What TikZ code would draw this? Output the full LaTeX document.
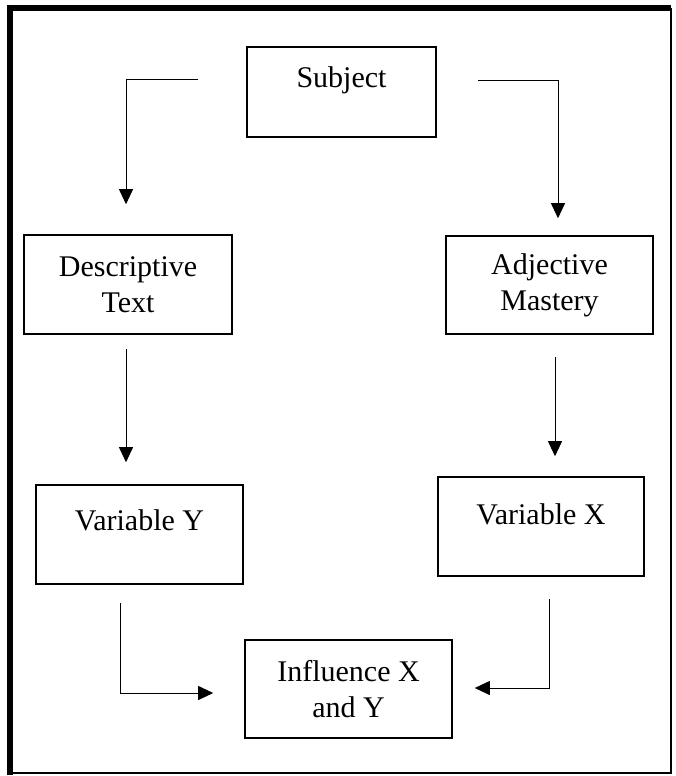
\documentclass[tikz,border=0pt]{standalone}
\usepackage{fontspec}
\setmainfont{Liberation Serif}
\usetikzlibrary{arrows.meta}

\begin{document}
\begin{tikzpicture}[x=1pt,y=-1pt]
  \tikzstyle{box}=[draw,line width=1.6pt,align=center,inner sep=0pt,font=\fontsize{30}{36}\selectfont]
  \tikzstyle{arr}=[line width=0.9pt,-{Triangle[length=15pt,width=14pt]}]
  \useasboundingbox (0,0) rectangle (675,776);
  % frame
  \draw[line width=1.5pt] (671,8) -- (671,773) -- (10,773);
  \draw[line width=5.5pt] (10,775) -- (10,8) -- (671,8);
  \node[box,minimum width=189pt,minimum height=90pt,text depth=30pt] (subj) at (341.5,92) {Subject};
  \node[box,minimum width=208pt,minimum height=99pt] (desc) at (128,284.5) {Descriptive\\Text};
  \node[box,minimum width=207pt,minimum height=98pt] (adj) at (549.5,285) {Adjective\\Mastery};
  \node[box,minimum width=207pt,minimum height=99pt,text depth=29pt] (vary) at (139.5,534.5) {Variable Y};
  \node[box,minimum width=206pt,minimum height=99pt,text depth=25pt] (varx) at (541,526.5) {Variable X};
  \node[box,minimum width=207pt,minimum height=98pt] (infl) at (348.5,689) {Influence X\\and Y};
  \draw[arr,shorten <=48pt,shorten >=30pt] ([yshift=13pt]subj.west) -| ([xshift=-2pt]desc.north);
  \draw[arr,shorten <=41pt,shorten >=17pt] ([yshift=12pt]subj.east) -| ([xshift=8.5pt]adj.north);
  \draw[arr,shorten <=14pt,shorten >=22pt] ([xshift=-2pt]desc.south) -- ([xshift=-2pt]desc.south |- vary.north);
  \draw[arr,shorten <=22pt,shorten >=20pt] ([xshift=5.5pt]adj.south) -- ([xshift=5.5pt]adj.south |- varx.north);
  \draw[arr,shorten <=18pt,shorten >=31pt] ([xshift=-19pt]vary.south) |- ([yshift=-4pt]infl.west);
  \draw[arr,shorten <=22pt,shorten >=22pt] ([xshift=8pt]varx.south) |- ([yshift=1pt]infl.east);
\end{tikzpicture}
\end{document}
